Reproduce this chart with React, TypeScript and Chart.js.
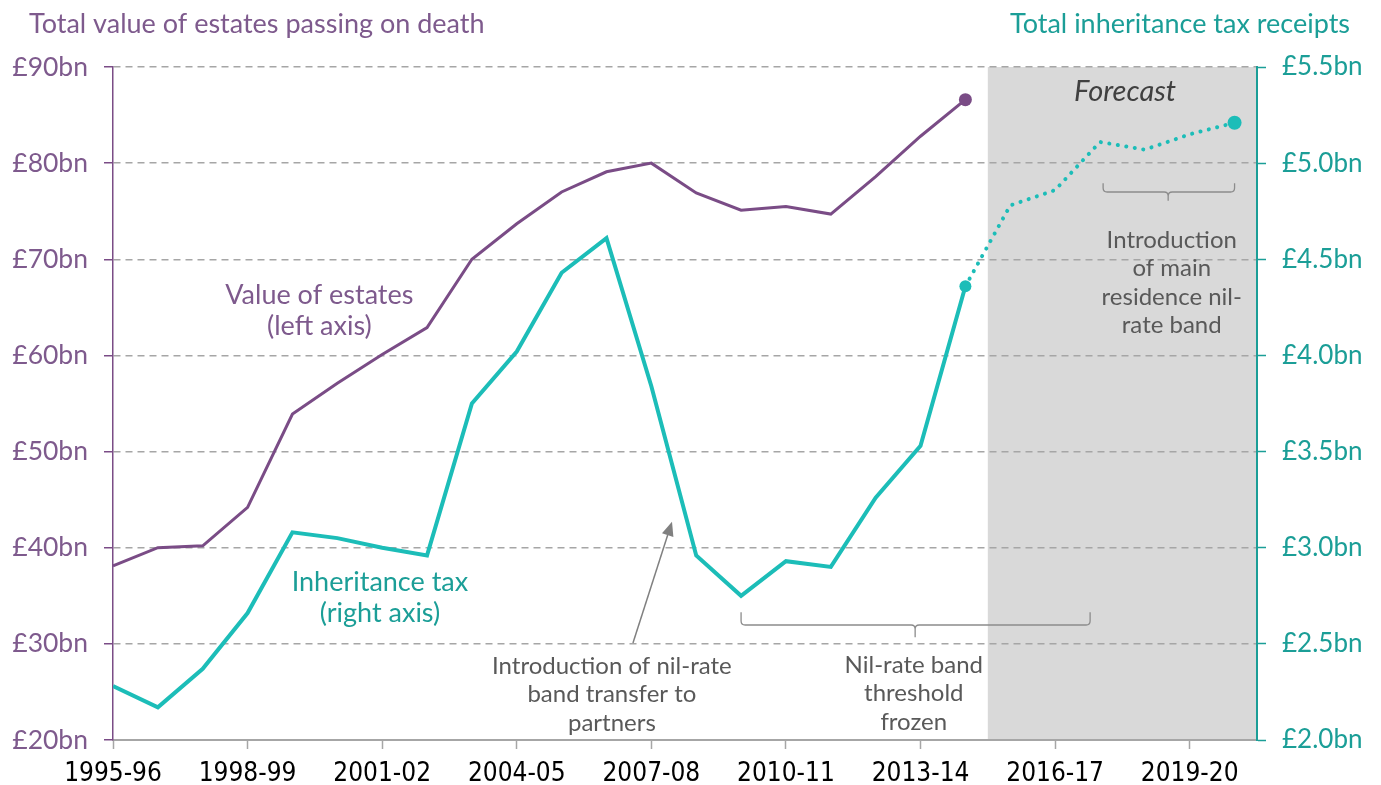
import React, { useEffect, useRef } from "react";
import { Chart, registerables } from "chart.js";

Chart.register(...registerables);

// ---------- data ----------
const years = [
  "1995-96", "1996-97", "1997-98", "1998-99", "1999-00", "2000-01", "2001-02",
  "2002-03", "2003-04", "2004-05", "2005-06", "2006-07", "2007-08", "2008-09",
  "2009-10", "2010-11", "2011-12", "2012-13", "2013-14", "2014-15", "2015-16",
  "2016-17", "2017-18", "2018-19", "2019-20", "2020-21",
];
// Total value of estates passing on death, £bn (left axis)
const estatesValue = [
  38.1, 40.0, 40.2, 44.2, 53.9, 57.1, 60.1, 62.9, 70.0, 73.7,
  77.0, 79.1, 80.0, 76.9, 75.1, 75.5, 74.7, 78.6, 82.8, 86.6,
];
// Inheritance tax receipts, £bn (right axis), outturn
const ihtOutturn = [
  2.28, 2.17, 2.37, 2.66, 3.08, 3.05, 3.00, 2.96, 3.75, 4.02,
  4.43, 4.61, 3.84, 2.96, 2.75, 2.93, 2.90, 3.26, 3.53, 4.36,
];
// Inheritance tax receipts forecast, starting at the last outturn year
const forecastStartIndex = 19;
const ihtForecast = [4.36, 4.78, 4.86, 5.11, 5.07, 5.15, 5.21];

const leftAxisMin = 20;
const leftAxisMax = 90;
const leftAxisStep = 10;
const rightAxisMin = 2.0;
const rightAxisMax = 5.5;
const rightAxisStep = 0.5;
const xTickEvery = 3;
const xAxisMax = 25.5;

const titleLeft = "Total value of estates passing on death";
const titleRight = "Total inheritance tax receipts";
const forecastLabel = "Forecast";

// ---------- styles ----------
const PURPLE_LINE = "#7A4C86";
const PURPLE_TEXT = "#7E5A8D";
const TEAL_LINE = "#1CBDB8";
const TEAL_TEXT = "#1B9E97";
const GRID = "#A6A6A6";
const NOTE = "#595959";
const SHADE = "#D9D9D9";
const FONT = "Lato, 'Noto Sans', sans-serif";
const NARROW = "'Liberation Sans Narrow', 'DejaVu Sans Condensed', sans-serif";

// annotation placements in data units (x index, left-axis value)
const seriesLabels = [
  { lines: ["Value of estates", "(left axis)"], x: 4.6, y: 66.3, color: PURPLE_TEXT },
  { lines: ["Inheritance tax", "(right axis)"], x: 5.95, y: 36.4, color: TEAL_TEXT },
];
const notes = [
  { lines: ["Introduction of nil-rate", "band transfer to", "partners"], x: 11.12, y: 27.7 },
  { lines: ["Nil-rate band", "threshold", "frozen"], x: 17.85, y: 27.8 },
  { lines: ["Introduction", "of main", "residence nil-", "rate band"], x: 23.6, y: 72.0 },
];
const brackets = [
  { x0: 14.0, x1: 21.78, xm: 17.88, yTop: 33.3, yLine: 31.96, yNotch: 30.7 },
  { x0: 22.07, x1: 25.0, xm: 23.52, yTop: 77.9, yLine: 77.0, yNotch: 76.1 },
];
const arrow = { fromX: 11.59, fromY: 30.1, toX: 12.46, toY: 42.7 };
const forecastTextPos = { x: 22.56, y: 87.4 };

const annotationPlugin = {
  id: "annotations",
  beforeDraw(chart: any) {
    const { ctx, chartArea, scales } = chart;
    const xs = scales.x;
    const x0 = xs.getPixelForValue(forecastStartIndex + 0.5);
    const x1 = xs.getPixelForValue(xAxisMax);
    ctx.save();
    ctx.fillStyle = SHADE;
    ctx.fillRect(x0, chartArea.top, x1 - x0, chartArea.bottom - chartArea.top);
    ctx.restore();
  },
  afterDraw(chart: any) {
    const { ctx, scales } = chart;
    const xs = scales.x;
    const ys = scales.yL;
    const px = (v: number) => xs.getPixelForValue(v);
    const py = (v: number) => ys.getPixelForValue(v);
    ctx.save();
    ctx.textBaseline = "middle";

    // titles
    ctx.font = `27px ${FONT}`;
    ctx.fillStyle = PURPLE_TEXT;
    ctx.textAlign = "left";
    ctx.fillText(titleLeft, 29, 24);
    ctx.fillStyle = TEAL_TEXT;
    ctx.textAlign = "right";
    ctx.fillText(titleRight, 1350, 24);

    // forecast label
    ctx.font = `italic 29px ${FONT}`;
    ctx.fillStyle = "#404040";
    ctx.textAlign = "center";
    ctx.fillText(forecastLabel, px(forecastTextPos.x), py(forecastTextPos.y));

    // series labels
    ctx.font = `27px ${FONT}`;
    for (const s of seriesLabels) {
      ctx.fillStyle = s.color;
      s.lines.forEach((l, i) => ctx.fillText(l, px(s.x), py(s.y) + i * 31));
    }

    // notes
    ctx.font = `24px ${FONT}`;
    ctx.fillStyle = NOTE;
    for (const n of notes) {
      n.lines.forEach((l, i) => ctx.fillText(l, px(n.x), py(n.y) + i * 28.5));
    }

    // brackets
    ctx.strokeStyle = "#8C8C8C";
    ctx.lineWidth = 1.3;
    for (const b of brackets) {
      const X0 = px(b.x0), X1 = px(b.x1), XM = px(b.xm);
      const YT = py(b.yTop), YL = py(b.yLine), YN = py(b.yNotch);
      const r = Math.min(4, (YL - YT) / 2);
      ctx.beginPath();
      ctx.moveTo(X0, YT);
      ctx.lineTo(X0, YL - r);
      ctx.quadraticCurveTo(X0, YL, X0 + r, YL);
      ctx.lineTo(XM - r, YL);
      ctx.quadraticCurveTo(XM, YL, XM, YL + r);
      ctx.lineTo(XM, YN);
      ctx.moveTo(XM, YL + r);
      ctx.quadraticCurveTo(XM, YL, XM + r, YL);
      ctx.lineTo(X1 - r, YL);
      ctx.quadraticCurveTo(X1, YL, X1, YL - r);
      ctx.lineTo(X1, YT);
      ctx.stroke();
    }

    // arrow
    const ax0 = px(arrow.fromX), ay0 = py(arrow.fromY);
    const ax1 = px(arrow.toX), ay1 = py(arrow.toY);
    const ang = Math.atan2(ay1 - ay0, ax1 - ax0);
    const head = 14, hw = 6;
    const bx = ax1 - head * Math.cos(ang), by = ay1 - head * Math.sin(ang);
    ctx.strokeStyle = "#808080";
    ctx.fillStyle = "#808080";
    ctx.lineWidth = 1.5;
    ctx.beginPath();
    ctx.moveTo(ax0, ay0);
    ctx.lineTo(bx, by);
    ctx.stroke();
    ctx.beginPath();
    ctx.moveTo(ax1, ay1);
    ctx.lineTo(bx + hw * Math.sin(ang), by - hw * Math.cos(ang));
    ctx.lineTo(bx - hw * Math.sin(ang), by + hw * Math.cos(ang));
    ctx.closePath();
    ctx.fill();

    ctx.restore();
  },
};

export default function App() {
  const canvasRef = useRef<HTMLCanvasElement | null>(null);

  useEffect(() => {
    if (!canvasRef.current) return;
    const lastEst = estatesValue.length - 1;
    const lastFc = ihtForecast.length - 1;
    const chart = new Chart(canvasRef.current, {
      type: "line",
      data: {
        datasets: [
          {
            label: "Value of estates",
            data: estatesValue.map((v, i) => ({ x: i, y: v })),
            yAxisID: "yL",
            borderColor: PURPLE_LINE,
            backgroundColor: PURPLE_LINE,
            borderWidth: 3,
            pointRadius: (c: any) => (c.dataIndex === lastEst ? 6.5 : 0),
            pointBorderWidth: 0,
            tension: 0,
          },
          {
            label: "Inheritance tax",
            data: ihtOutturn.map((v, i) => ({ x: i, y: v })),
            yAxisID: "yR",
            borderColor: TEAL_LINE,
            backgroundColor: TEAL_LINE,
            borderWidth: 4,
            pointRadius: (c: any) => (c.dataIndex === ihtOutturn.length - 1 ? 6 : 0),
            pointBorderWidth: 0,
            tension: 0,
          },
          {
            label: "Inheritance tax forecast",
            data: ihtForecast.map((v, i) => ({ x: forecastStartIndex + i, y: v })),
            yAxisID: "yR",
            borderColor: TEAL_LINE,
            backgroundColor: TEAL_LINE,
            borderWidth: 4,
            borderDash: [0.1, 8.5],
            borderCapStyle: "round",
            pointRadius: (c: any) => (c.dataIndex === lastFc ? 7 : 0),
            pointBorderWidth: 0,
            tension: 0,
          },
        ] as any,
      },
      options: {
        animation: false,
        responsive: true,
        maintainAspectRatio: false,
        layout: { padding: { top: 67, left: 0, right: 0, bottom: 0 } },
        plugins: { legend: { display: false }, tooltip: { enabled: false } },
        scales: {
          x: {
            type: "linear",
            min: 0,
            max: xAxisMax,
            afterBuildTicks: (scale: any) => {
              scale.ticks = years
                .map((_, i) => i)
                .filter((i) => i % xTickEvery === 0)
                .map((v) => ({ value: v }));
            },
            afterFit: (scale: any) => {
              scale.height = 45;
            },
            grid: {
              drawOnChartArea: false,
              drawTicks: true,
              tickLength: 9,
              tickColor: GRID,
              tickWidth: 1.5,
            },
            border: { display: true, color: GRID, width: 2 },
            ticks: {
              callback: (v: any) => years[v] ?? "",
              color: "#000000",
              font: { family: NARROW, size: 26 },
              padding: 10,
              maxRotation: 0,
              autoSkip: false,
            },
          },
          yL: {
            type: "linear",
            position: "left",
            min: leftAxisMin,
            max: leftAxisMax,
            afterFit: (scale: any) => {
              scale.width = 113;
            },
            ticks: {
              stepSize: leftAxisStep,
              callback: (v: any) => `£${v}bn`,
              color: PURPLE_TEXT,
              font: { family: FONT, size: 26.5 },
              padding: 16,
            },
            grid: {
              drawOnChartArea: true,
              color: GRID,
              lineWidth: 1.5,
              drawTicks: true,
              tickLength: 9,
              tickColor: PURPLE_LINE,
              tickWidth: 1.5,
            },
            border: { display: true, color: PURPLE_LINE, width: 1.5, dash: [7, 5] },
          },
          yR: {
            type: "linear",
            position: "right",
            min: rightAxisMin,
            max: rightAxisMax,
            afterFit: (scale: any) => {
              scale.width = 124;
            },
            ticks: {
              stepSize: rightAxisStep,
              callback: (v: any) => `£${Number(v).toFixed(1)}bn`,
              color: TEAL_TEXT,
              font: { family: FONT, size: 26 },
              padding: 16,
            },
            grid: {
              drawOnChartArea: false,
              drawTicks: true,
              tickLength: 9,
              tickColor: TEAL_TEXT,
              tickWidth: 1.5,
            },
            border: { display: true, color: TEAL_TEXT, width: 2 },
          },
        },
      } as any,
      plugins: [annotationPlugin],
    });
    return () => chart.destroy();
  }, []);

  return (
    <div style={{ position: "fixed", left: 0, top: 0, width: 1381, height: 785, background: "#ffffff" }}>
      <canvas ref={canvasRef} />
    </div>
  );
}
